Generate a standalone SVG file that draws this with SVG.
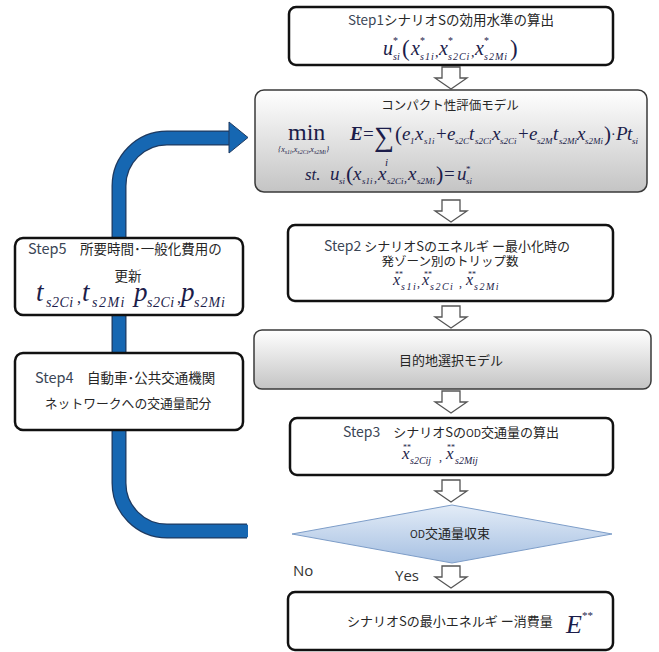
<svg xmlns="http://www.w3.org/2000/svg" width="659" height="652" viewBox="0 0 659 652">
<defs>
<linearGradient id="gray" x1="0" y1="0" x2="0" y2="1">
<stop offset="0" stop-color="#ffffff"/>
<stop offset="1" stop-color="#c4c4c4"/>
</linearGradient>
<linearGradient id="blue" x1="0" y1="0" x2="0" y2="1">
<stop offset="0" stop-color="#e3ecf7"/>
<stop offset="1" stop-color="#a6c0e2"/>
</linearGradient>
<path id="dn" d="M-9,0 H9 V11 H16 L0,22 L-16,11 H-9 Z"/>
</defs>
<style>
.box{fill:#ffffff;stroke:#111;stroke-width:2.5}
.gbox{fill:url(#gray);stroke:#3a3a3a;stroke-width:1.5}
.jp{font-family:"Noto Sans CJK JP","Noto Sans",sans-serif;fill:#262626}
.st{fill:#3b4656}
.m{font-family:"Liberation Serif",serif;font-style:italic;fill:#1c1d4a}
.n{font-style:normal}
.arr{fill:#ffffff;stroke:#555;stroke-width:1.3}
.lbl{font-family:"Open Sans","Liberation Sans",sans-serif;fill:#333;font-size:15px}
</style>

<g id="connectors">
<path d="M247,531 H167 A48,48 0 0 1 119,483 V186 A48,48 0 0 1 167,138 H230" fill="none" stroke="#1f3a60" stroke-width="15"/>
<path d="M248,531 H167 A48,48 0 0 1 119,483 V186 A48,48 0 0 1 167,138 H231" fill="none" stroke="#1667b2" stroke-width="12.5"/>
<polygon points="229,122 248,137.5 229,153" fill="#1667b2" stroke="#1f3a60" stroke-width="1"/>
<use href="#dn" class="arr" x="451" y="67"/>
<use href="#dn" class="arr" x="451" y="200"/>
<use href="#dn" class="arr" x="451" y="306"/>
<use href="#dn" class="arr" x="451" y="391"/>
<use href="#dn" class="arr" x="451" y="480"/>
<use href="#dn" class="arr" x="451" y="566"/>
</g>

<g id="step1">
<rect class="box" x="289" y="7" width="324" height="58" rx="7"/>
<text class="jp" x="451" y="25" font-size="13.5" text-anchor="middle"><tspan class="st">Step1</tspan>シナリオSの効用水準の算出</text>
<text class="m" font-size="20"><tspan x="383" y="55">u</tspan><tspan x="393" y="44" font-size="10" class="n">*</tspan><tspan x="393" y="60" font-size="10">si</tspan><tspan x="402" y="56" font-size="23" class="n">(</tspan><tspan x="411" y="55">x</tspan><tspan x="420" y="44" font-size="10" class="n">*</tspan><tspan x="420" y="60" font-size="10" letter-spacing="1">s1i</tspan><tspan x="435" y="57" font-size="14" class="n">,</tspan><tspan x="439" y="55">x</tspan><tspan x="448" y="44" font-size="10" class="n">*</tspan><tspan x="448" y="60" font-size="10" letter-spacing="1">s2Ci</tspan><tspan x="471" y="57" font-size="14" class="n">,</tspan><tspan x="475" y="55">x</tspan><tspan x="484" y="44" font-size="10" class="n">*</tspan><tspan x="484" y="60" font-size="10" letter-spacing="1">s2Mi</tspan><tspan x="510" y="56" font-size="23" class="n">)</tspan></text>
</g>

<g id="compact">
<rect class="gbox" x="255" y="90" width="392" height="102" rx="9"/>
<text class="jp" x="450" y="110" font-size="12.5" text-anchor="middle">コンパクト性評価モデル</text>
<text class="m" font-size="24"><tspan x="288" y="140" class="n">min</tspan><tspan x="278" y="152" font-size="8">{x</tspan><tspan dy="1.5" font-size="6">s1i</tspan><tspan dy="-1.5" font-size="8">,x</tspan><tspan dy="1.5" font-size="6">s2Ci</tspan><tspan dy="-1.5" font-size="8">,x</tspan><tspan dy="1.5" font-size="6">s2Mi</tspan><tspan dy="-1.5" font-size="8">}</tspan></text>
<text class="m" font-size="19"><tspan x="350" y="140" font-weight="bold">E</tspan><tspan x="363" y="140" class="n">=</tspan><tspan x="374" y="146" font-size="28" class="n">∑</tspan><tspan x="385" y="166" font-size="11">i</tspan><tspan x="395" y="141" font-size="21" class="n">(</tspan><tspan x="402" y="140">e</tspan><tspan x="410" y="144" font-size="9">1</tspan><tspan x="415" y="140">x</tspan><tspan x="424" y="144" font-size="9">s1i</tspan><tspan x="436" y="140" class="n">+</tspan><tspan x="447" y="140">e</tspan><tspan x="455" y="144" font-size="9">s2C</tspan><tspan x="469" y="140">t</tspan><tspan x="475" y="144" font-size="9">s2Ci</tspan><tspan x="492" y="140">x</tspan><tspan x="500" y="144" font-size="9">s2Ci</tspan><tspan x="518" y="140" class="n">+</tspan><tspan x="529" y="140">e</tspan><tspan x="537" y="144" font-size="9">s2M</tspan><tspan x="553" y="140">t</tspan><tspan x="559" y="144" font-size="9">s2Mi</tspan><tspan x="577" y="140">x</tspan><tspan x="585" y="144" font-size="9">s2Mi</tspan><tspan x="604" y="141" font-size="21" class="n">)</tspan><tspan x="611" y="139" class="n" font-size="14">·</tspan><tspan x="616" y="140">P</tspan><tspan x="627" y="140">t</tspan><tspan x="632" y="144" font-size="9">si</tspan></text>
<text class="m" font-size="19"><tspan x="305" y="180" font-size="17">st.</tspan><tspan x="330" y="180">u</tspan><tspan x="339" y="184" font-size="9">si</tspan><tspan x="346" y="181" font-size="22" class="n">(</tspan><tspan x="353" y="180">x</tspan><tspan x="362" y="184" font-size="9">s1i</tspan><tspan x="374" y="182" font-size="12" class="n">,</tspan><tspan x="378" y="180">x</tspan><tspan x="387" y="184" font-size="9">s2Ci</tspan><tspan x="404" y="182" font-size="12" class="n">,</tspan><tspan x="408" y="180">x</tspan><tspan x="417" y="184" font-size="9">s2Mi</tspan><tspan x="436" y="181" font-size="22" class="n">)</tspan><tspan x="444" y="180" class="n">=</tspan><tspan x="457" y="180">u</tspan><tspan x="466" y="172" font-size="9" class="n">*</tspan><tspan x="466" y="184" font-size="9">si</tspan></text>
</g>

<g id="step2">
<rect class="box" x="288" y="225" width="325" height="76" rx="7"/>
<text class="jp" x="447" y="251" font-size="13" text-anchor="middle"><tspan class="st" font-size="14">Step2</tspan> シナリオSのエネルギ ー最小化時の</text>
<text class="jp" x="450" y="266" font-size="12.5" text-anchor="middle">発ゾーン別のトリップ数</text>
<text class="m" font-size="16"><tspan x="393" y="285">x</tspan><tspan x="395" y="277" font-size="8" class="n">**</tspan><tspan x="401" y="290" font-size="10" letter-spacing="1.5">s1i</tspan><tspan x="417" y="287" font-size="12" class="n">,</tspan><tspan x="422" y="285">x</tspan><tspan x="424" y="277" font-size="8" class="n">**</tspan><tspan x="430" y="290" font-size="10" letter-spacing="1.5">s2Ci</tspan><tspan x="459" y="287" font-size="12" class="n">,</tspan><tspan x="466" y="285">x</tspan><tspan x="468" y="277" font-size="8" class="n">**</tspan><tspan x="474" y="290" font-size="10" letter-spacing="1.5">s2Mi</tspan></text>
</g>

<g id="destination">
<rect class="gbox" x="254" y="330" width="397" height="59" rx="8"/>
<text class="jp" x="451" y="365" font-size="13" text-anchor="middle">目的地選択モデル</text>
</g>

<g id="step3">
<rect class="box" x="290" y="418" width="323" height="57" rx="7"/>
<text class="jp" x="451" y="437" font-size="13" text-anchor="middle"><tspan class="st" font-size="14">Step3</tspan>　シナリオSの<tspan font-size="10.5">OD</tspan>交通量の算出</text>
<text class="m" font-size="17"><tspan x="402" y="459">x</tspan><tspan x="403" y="450" font-size="8" class="n">**</tspan><tspan x="410" y="464" font-size="10">s2Cij</tspan><tspan x="439" y="461" font-size="12" class="n">,</tspan><tspan x="446" y="459">x</tspan><tspan x="447" y="450" font-size="8" class="n">**</tspan><tspan x="455" y="464" font-size="10">s2Mij</tspan></text>
</g>

<g id="converge">
<polygon points="452,505 612,534 452,563 292,534" fill="url(#blue)" stroke="#7d9dc8" stroke-width="1"/>
<text class="jp" x="450" y="538" font-size="13" text-anchor="middle"><tspan font-size="10.5">OD</tspan>交通量収束</text>
</g>

<text class="lbl" x="293" y="576">No</text>
<text class="lbl" x="395" y="581">Yes</text>

<g id="final">
<rect class="box" x="288" y="592" width="325" height="58" rx="7"/>
<text class="jp" x="347" y="626" font-size="13">シナリオSの最小エネルギ ー消費量</text>
<text class="m" font-size="26"><tspan x="566" y="633">E</tspan><tspan x="582" y="619" font-size="11" class="n">**</tspan></text>
</g>

<g id="step5">
<rect class="box" x="15" y="238" width="228" height="77" rx="8"/>
<text class="jp" x="28" y="254" font-size="13.5"><tspan class="st" font-size="14.5">Step5</tspan>　所要時間･一般化費用の</text>
<text class="jp" x="128" y="281" font-size="13.5" text-anchor="middle">更新</text>
<text class="m" font-size="27"><tspan x="36" y="301">t</tspan><tspan x="46" y="307" font-size="14" letter-spacing="0.5">s2Ci</tspan><tspan x="77" y="303" font-size="16" class="n">,</tspan><tspan x="82" y="301">t</tspan><tspan x="92" y="307" font-size="14" letter-spacing="1.5">s2Mi</tspan><tspan x="134" y="301">p</tspan><tspan x="147" y="307" font-size="14" letter-spacing="0.5">s2Ci</tspan><tspan x="177" y="303" font-size="16" class="n">,</tspan><tspan x="181" y="301">p</tspan><tspan x="194" y="307" font-size="14" letter-spacing="1">s2Mi</tspan></text>
</g>

<g id="step4">
<rect class="box" x="15" y="353" width="228" height="77" rx="8"/>
<text class="jp" x="35" y="383" font-size="13.5"><tspan class="st" font-size="14.5">Step4</tspan>　自動車･公共交通機関</text>
<text class="jp" x="128" y="408" font-size="12.8" text-anchor="middle">ネットワークへの交通量配分</text>
</g>
</svg>
